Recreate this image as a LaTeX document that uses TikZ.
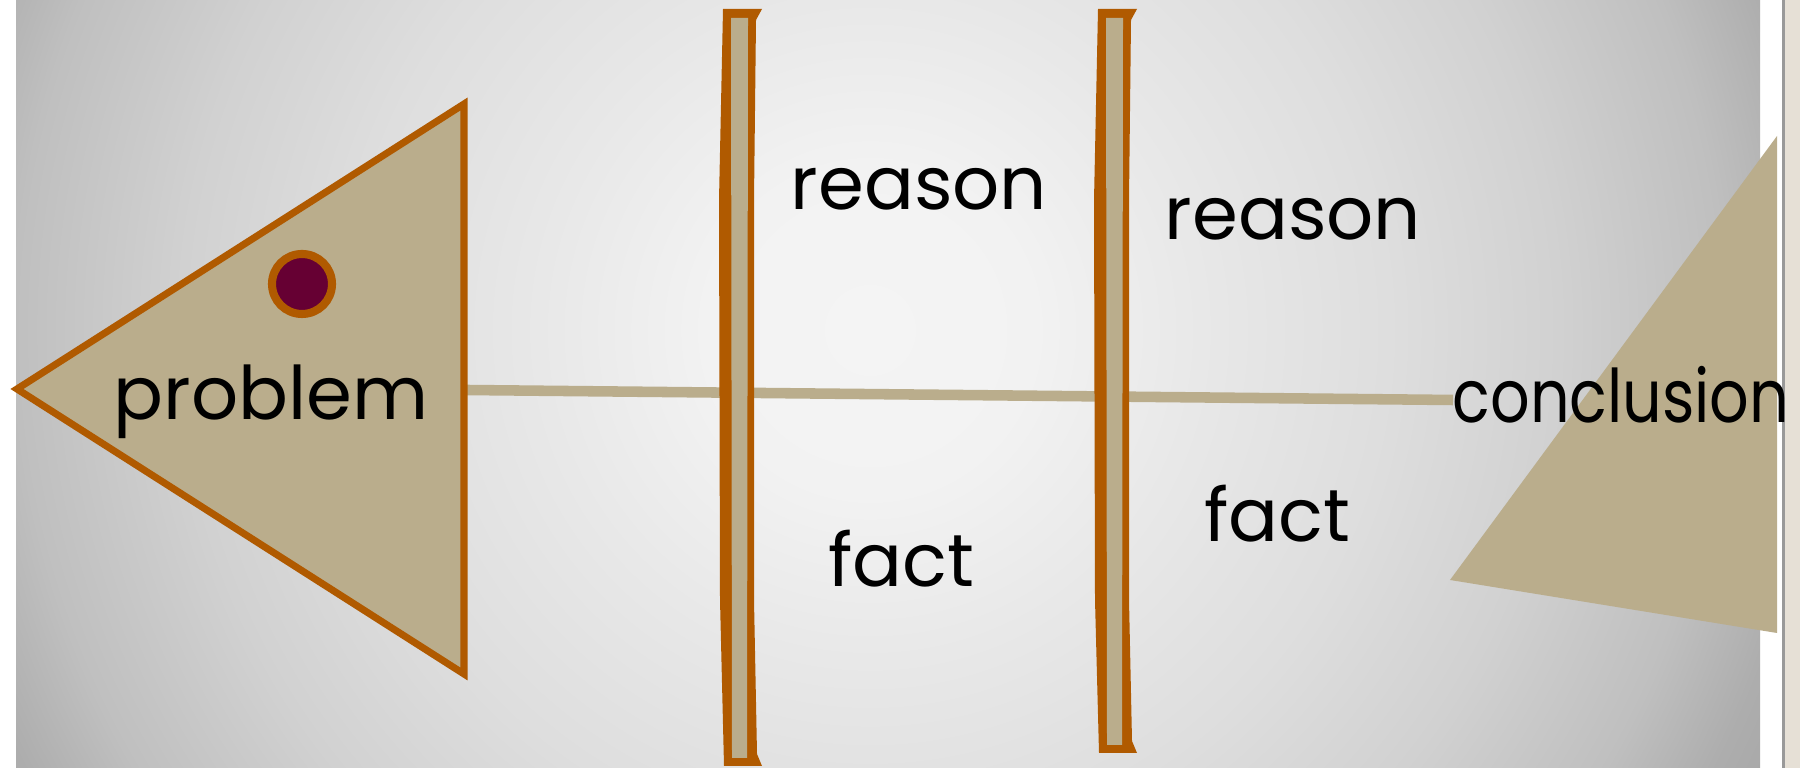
\documentclass[tikz,border=0pt]{standalone}
\usepackage{fontspec}
\setmainfont{Poppins}
\usepackage{graphicx}
\usepackage{tikz}
\usetikzlibrary{positioning}
\definecolor{rust}{HTML}{B05A00}
\definecolor{sand}{HTML}{BAAD8C}
\definecolor{plum}{HTML}{660033}
\definecolor{bglight}{HTML}{F4F4F4}
\definecolor{paper}{HTML}{E6E0D6}
\pgfdeclareradialshading{stage}{\pgfpoint{0bp}{0bp}}{color(0bp)=(bglight); color(4bp)=(black!5); color(8.25bp)=(black!9); color(13bp)=(black!13); color(17.2bp)=(black!18); color(21.35bp)=(black!25); color(23.75bp)=(black!32); color(25bp)=(black!34); color(50bp)=(black!34)}
\tikzset{
  word/.style={font=\fontsize{21pt}{25pt}\selectfont,anchor=base,inner sep=0pt},
  spine/.style={draw=sand,line width=3pt},
  head/.style={draw=rust,fill=sand,line width=2pt,line join=miter},
  eye/.style={draw=rust,fill=plum,line width=2.3pt},
  bone/.style={fill=rust},
  marrow/.style={fill=sand}
}

\begin{document}
\begin{tikzpicture}[x=0.01cm,y=-0.01cm]
  \useasboundingbox (0,0) rectangle (1800,768);
  \fill[white] (0,0) rectangle (1800,768);
  \begin{scope}
    \clip (16,0) rectangle (1760,768);
    \shade[shading=stage] (870,330) circle (1000);
  \end{scope}
  \fill[black!40] (1782,0) rectangle (1785,768);
  \fill[paper] (1785,0) rectangle (1800,768);
  \coordinate (head) at (466,390);
  \coordinate (tail) at (1453,400);
  \draw[spine] (head) -- (tail);
  \draw[head] (17,389) -- (464,104) -- (464,674) -- cycle;
  \draw[eye] (302,284) circle (30);
  \foreach \bx/\by in {720/766,1095/753}{
    \fill[bone] (\bx+3,9) -- (\bx+42,9) -- (\bx+36,20) -- (\bx+34,200) -- (\bx+34,600) -- (\bx+37,\by-12) -- (\bx+42,\by) -- (\bx+4,\by) -- (\bx,600) -- (\bx-1,200) -- cycle;
    \fill[marrow] (\bx+11,18) -- (\bx+28,18) -- (\bx+27,\by-8) -- (\bx+12,\by-8) -- cycle;
  }
  \fill[sand] (1777,136) -- (1450,580) -- (1777,633) -- cycle;
  \node[word] (problem) at (271,420) {problem};
  \node[word] (conclusion) at (1621,423) {\scalebox{0.84}[1]{conclusion}};
  \node[word] (reasonA) at (919,210) {reason};
  \node[word] (reasonB) at (1293,240) {reason};
  \node[word] (factA) at (901,587) {fact};
  \node[word] (factB) at (1277,542) {fact};
\end{tikzpicture}
\end{document}
